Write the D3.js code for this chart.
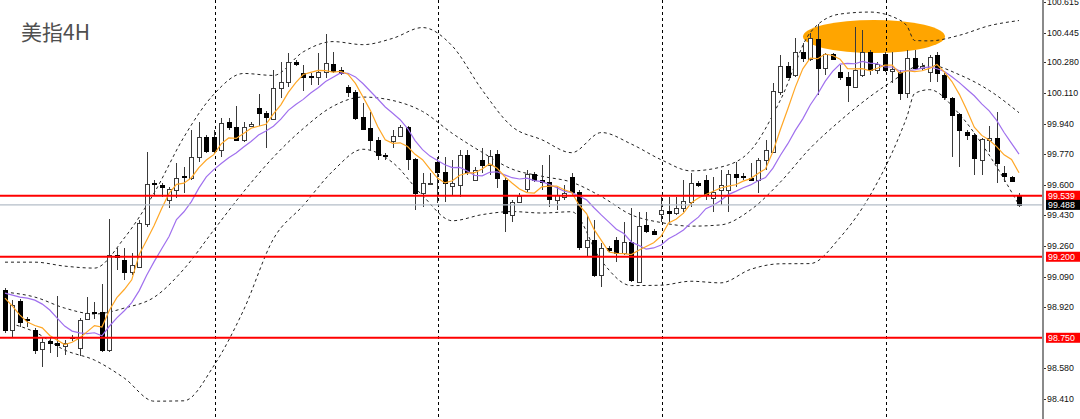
<!DOCTYPE html>
<html lang="zh">
<head>
<meta charset="utf-8">
<title>美指4H</title>
<script src="https://d3js.org/d3.v7.min.js"></script>
<style>
    body { margin: 0; background: #fff; }
    svg { display: block; }
    text { font-family: "Liberation Sans", Arial, sans-serif; }
    .title { font-family: "Noto Sans CJK SC", sans-serif; }
</style>
</head>
<body>
<div id="chart"></div>
<script>

// 4H candles of the dollar index, oldest first
var opens = [
    99.015, 98.793, 98.954, 98.854, 98.793, 98.687, 98.732, 98.720, 98.704, 98.754,
    98.693, 98.854, 98.893, 98.893, 98.682, 99.209, 99.182, 99.115, 99.143, 99.382,
    99.609, 99.598, 99.515, 99.570, 99.648, 99.637, 99.754, 99.865, 99.865, 99.793,
    99.948, 99.920, 99.848, 99.926, 100.026, 99.998, 99.965, 100.137, 100.170, 100.282,
    100.220, 100.204, 100.198, 100.226, 100.270, 100.237, 100.143, 100.115, 99.976, 99.915,
    99.848, 99.765, 99.843, 99.870, 99.920, 99.743, 99.554, 99.604, 99.726, 99.670,
    99.593, 99.598, 99.765, 99.626, 99.737, 99.709, 99.770, 99.626, 99.432, 99.504,
    99.576, 99.659, 99.626, 99.615, 99.515, 99.532, 99.643, 99.559, 99.254, 99.293,
    99.098, 99.248, 99.293, 99.220, 99.282, 99.059, 99.376, 99.343, 99.437, 99.454,
    99.443, 99.470, 99.504, 99.609, 99.626, 99.526, 99.570, 99.570, 99.659, 99.648,
    99.637, 99.626, 99.737, 99.782, 100.115, 100.259, 100.209, 100.337, 100.298, 100.409,
    100.248, 100.326, 100.226, 100.198, 100.143, 100.209, 100.337, 100.237, 100.326, 100.232,
    100.226, 100.109, 100.304, 100.248, 100.226, 100.320, 100.209, 100.082, 99.993, 99.893,
    99.876, 99.737, 99.848, 99.859, 99.665, 99.643, 99.543
];
var highs = [
    99.026, 98.959, 98.965, 98.865, 98.804, 98.754, 98.754, 98.982, 98.737, 98.765,
    98.859, 98.976, 98.948, 99.048, 99.409, 99.248, 99.248, 99.220, 99.404, 99.782,
    99.626, 99.609, 99.587, 99.720, 99.698, 99.904, 99.948, 99.876, 99.904, 99.970,
    99.970, 100.037, 99.948, 99.948, 100.104, 100.009, 100.237, 100.282, 100.332, 100.293,
    100.265, 100.220, 100.332, 100.437, 100.337, 100.254, 100.154, 100.126, 100.054, 100.004,
    99.865, 99.776, 99.904, 99.932, 99.926, 99.748, 99.665, 99.665, 99.754, 99.754,
    99.737, 99.793, 99.793, 99.698, 99.804, 99.793, 99.793, 99.637, 99.515, 99.554,
    99.682, 99.670, 99.709, 99.765, 99.587, 99.598, 99.665, 99.570, 99.432, 99.404,
    99.276, 99.259, 99.309, 99.393, 99.470, 99.448, 99.448, 99.354, 99.532, 99.532,
    99.532, 99.626, 99.665, 99.620, 99.654, 99.643, 99.682, 99.682, 99.726, 99.665,
    99.720, 99.748, 99.848, 100.165, 100.320, 100.282, 100.415, 100.387, 100.443, 100.493,
    100.332, 100.332, 100.265, 100.226, 100.476, 100.459, 100.348, 100.282, 100.337, 100.337,
    100.237, 100.348, 100.348, 100.276, 100.320, 100.337, 100.220, 100.087, 99.998, 99.904,
    99.887, 99.859, 99.926, 100.004, 99.704, 99.648, 99.554
];
var lows = [
    98.776, 98.754, 98.809, 98.809, 98.659, 98.587, 98.665, 98.643, 98.654, 98.732,
    98.648, 98.848, 98.854, 98.670, 98.670, 99.126, 99.070, 99.098, 99.137, 99.365,
    99.543, 99.532, 99.470, 99.526, 99.554, 99.626, 99.726, 99.776, 99.776, 99.754,
    99.904, 99.843, 99.837, 99.920, 99.926, 99.804, 99.959, 100.082, 100.143, 100.259,
    100.120, 100.154, 100.154, 100.193, 100.220, 100.209, 100.087, 99.959, 99.904, 99.793,
    99.737, 99.737, 99.804, 99.865, 99.682, 99.459, 99.476, 99.598, 99.498, 99.504,
    99.543, 99.532, 99.654, 99.626, 99.665, 99.654, 99.582, 99.337, 99.393, 99.498,
    99.559, 99.615, 99.570, 99.476, 99.459, 99.515, 99.543, 99.237, 99.198, 99.087,
    99.032, 99.226, 99.170, 99.209, 99.059, 99.054, 99.332, 99.320, 99.393, 99.387,
    99.432, 99.448, 99.476, 99.587, 99.515, 99.448, 99.487, 99.448, 99.587, 99.626,
    99.620, 99.554, 99.682, 99.776, 100.098, 100.193, 100.198, 100.282, 100.287, 100.098,
    100.209, 100.293, 100.182, 100.059, 100.137, 100.198, 100.209, 100.215, 100.226, 100.165,
    100.070, 100.082, 100.237, 100.237, 100.170, 100.170, 100.070, 99.754, 99.698, 99.848,
    99.654, 99.654, 99.782, 99.609, 99.615, 99.615, 99.476
];
var closes = [
    98.793, 98.932, 98.837, 98.848, 98.682, 98.726, 98.720, 98.709, 98.720, 98.748,
    98.848, 98.887, 98.887, 98.682, 99.209, 99.198, 99.115, 99.154, 99.387, 99.604,
    99.604, 99.587, 99.576, 99.637, 99.643, 99.754, 99.865, 99.787, 99.787, 99.943,
    99.920, 99.848, 99.920, 99.937, 99.998, 99.976, 100.137, 100.170, 100.282, 100.270,
    100.198, 100.198, 100.226, 100.276, 100.232, 100.220, 100.115, 99.970, 99.909, 99.848,
    99.765, 99.759, 99.870, 99.920, 99.743, 99.554, 99.609, 99.609, 99.670, 99.609,
    99.609, 99.765, 99.670, 99.682, 99.709, 99.759, 99.637, 99.443, 99.504, 99.537,
    99.659, 99.626, 99.615, 99.520, 99.543, 99.554, 99.559, 99.254, 99.293, 99.098,
    99.248, 99.237, 99.220, 99.282, 99.070, 99.370, 99.343, 99.326, 99.459, 99.443,
    99.470, 99.509, 99.609, 99.598, 99.543, 99.559, 99.598, 99.659, 99.643, 99.643,
    99.626, 99.737, 99.793, 100.120, 100.259, 100.198, 100.337, 100.304, 100.415, 100.248,
    100.326, 100.298, 100.198, 100.154, 100.237, 100.337, 100.237, 100.270, 100.237, 100.243,
    100.109, 100.304, 100.248, 100.259, 100.309, 100.220, 100.087, 99.987, 99.904, 99.876,
    99.748, 99.854, 99.859, 99.720, 99.648, 99.620, 99.487
];

// fast average (orange) and slow average (violet), one value per candle
var maFast = [
    98.970, 98.926, 98.876, 98.837, 98.818, 98.805, 98.763, 98.737, 98.712, 98.725,
    98.749, 98.783, 98.818, 98.810, 98.903, 98.973, 99.018, 99.072, 99.213, 99.292,
    99.373, 99.467, 99.552, 99.602, 99.609, 99.639, 99.695, 99.737, 99.767, 99.827,
    99.860, 99.857, 99.884, 99.914, 99.925, 99.936, 99.994, 100.044, 100.113, 100.167,
    100.212, 100.224, 100.235, 100.234, 100.226, 100.230, 100.214, 100.163, 100.089, 100.013,
    99.922, 99.850, 99.830, 99.833, 99.812, 99.769, 99.739, 99.687, 99.637, 99.610,
    99.622, 99.653, 99.665, 99.667, 99.687, 99.717, 99.692, 99.646, 99.610, 99.576,
    99.556, 99.554, 99.588, 99.592, 99.593, 99.572, 99.558, 99.486, 99.440, 99.352,
    99.290, 99.226, 99.219, 99.217, 99.212, 99.236, 99.257, 99.278, 99.314, 99.388,
    99.408, 99.442, 99.498, 99.526, 99.546, 99.564, 99.582, 99.592, 99.600, 99.620,
    99.634, 99.662, 99.688, 99.784, 99.907, 100.022, 100.142, 100.244, 100.303, 100.300,
    100.326, 100.318, 100.297, 100.245, 100.243, 100.245, 100.233, 100.247, 100.264, 100.265,
    100.219, 100.233, 100.228, 100.233, 100.246, 100.268, 100.225, 100.173, 100.102, 100.015,
    99.920, 99.874, 99.848, 99.812, 99.766, 99.740, 99.667
];
var maSlow = [
    98.998, 98.987, 98.976, 98.970, 98.959, 98.937, 98.904, 98.859, 98.815, 98.787,
    98.777, 98.773, 98.778, 98.761, 98.814, 98.861, 98.900, 98.945, 99.012, 99.097,
    99.173, 99.243, 99.312, 99.407, 99.450, 99.506, 99.581, 99.644, 99.684, 99.718,
    99.750, 99.776, 99.810, 99.840, 99.876, 99.898, 99.925, 99.964, 100.013, 100.046,
    100.074, 100.109, 100.139, 100.173, 100.197, 100.221, 100.219, 100.199, 100.162, 100.119,
    100.076, 100.032, 99.997, 99.961, 99.912, 99.845, 99.795, 99.759, 99.735, 99.711,
    99.695, 99.696, 99.676, 99.652, 99.649, 99.669, 99.672, 99.655, 99.639, 99.632,
    99.637, 99.623, 99.617, 99.601, 99.584, 99.564, 99.556, 99.537, 99.516, 99.472,
    99.431, 99.392, 99.353, 99.329, 99.282, 99.263, 99.242, 99.249, 99.265, 99.300,
    99.322, 99.349, 99.388, 99.420, 99.467, 99.486, 99.512, 99.545, 99.563, 99.583,
    99.599, 99.622, 99.640, 99.692, 99.764, 99.828, 99.902, 99.966, 100.043, 100.104,
    100.174, 100.230, 100.270, 100.274, 100.272, 100.285, 100.275, 100.272, 100.254, 100.254,
    100.232, 100.233, 100.238, 100.248, 100.255, 100.244, 100.229, 100.200, 100.167, 100.130,
    100.094, 100.049, 100.010, 99.957, 99.890, 99.830, 99.770
];

// Bollinger bands, read at these candles
var bandAt = [0, 4, 8, 12, 16, 20, 24, 28, 32, 36, 40, 44, 48, 52, 56, 60, 64, 68, 72, 76,
    80, 84, 88, 92, 96, 100, 104, 108, 112, 116, 120, 121, 122, 124, 128, 132, 136];
var bandUpper = [
    99.170, 99.170, 99.148, 99.137, 99.304, 99.554, 99.865, 100.102, 100.218, 100.207,
    100.338, 100.395, 100.378, 100.413, 100.473, 100.370, 100.126, 99.923, 99.850, 99.778,
    99.890, 99.826, 99.739, 99.677, 99.698, 99.790, 100.070, 100.445, 100.548, 100.559,
    100.515, 100.480, 100.401, 100.399, 100.430, 100.483, 100.512
];
var bandMiddle = [
    99.004, 98.976, 98.915, 98.882, 98.915, 98.975, 99.132, 99.348, 99.561, 99.753,
    99.912, 100.036, 100.087, 100.068, 100.007, 99.885, 99.780, 99.687, 99.647, 99.614,
    99.534, 99.433, 99.390, 99.370, 99.377, 99.460, 99.615, 99.803, 99.955, 100.089,
    100.203, 100.231, 100.254, 100.264, 100.211, 100.124, 100.000
];
var bandLower = [
    98.837, 98.782, 98.682, 98.626, 98.526, 98.398, 98.400, 98.594, 98.904, 99.299,
    99.485, 99.677, 99.797, 99.723, 99.540, 99.400, 99.434, 99.451, 99.443, 99.450,
    99.177, 99.040, 99.042, 99.064, 99.055, 99.130, 99.161, 99.162, 99.307, 99.539,
    99.876, 99.982, 100.107, 100.128, 99.992, 99.765, 99.487
];

var priceTicks = ["100.615", "100.445", "100.280", "100.110", "99.940", "99.770", "99.600",
    "99.430", "99.260", "99.090", "98.920", "98.580", "98.410"];
var levels = [99.539, 99.200, 98.750];
var lastPrice = 99.488;
var weekStarts = [28, 58, 88, 118];

var width = 1080
var height = 419
var axisX = 1043

var svg = d3.select("#chart")
  .append("svg")
    .attr("width", width)
    .attr("height", height)

var x = d3.scaleLinear().domain([0, 136]).range([5, 1019])
var y = d3.scaleLinear().domain([98.41, 100.626]).range([399, 0])

var plot = svg.append("g")

// marker ellipse behind the top
plot.append("ellipse")
    .attr("cx", 874).attr("cy", 36.5)
    .attr("rx", 71).attr("ry", 16.5)
    .attr("fill", "#ffa500")

// week separators
plot.selectAll("line.sep")
    .data(weekStarts)
    .enter().append("line")
    .attr("class", "sep")
    .attr("x1", d => Math.round(x(d)) + 1.5)
    .attr("x2", d => Math.round(x(d)) + 1.5)
    .attr("y1", 0).attr("y2", height)
    .attr("stroke", "#000")
    .attr("stroke-dasharray", "3,3")

// bollinger bands
var bandLine = d3.line()
    .x((d, i) => x(bandAt[i]))
    .y(d => y(d))
    .curve(d3.curveMonotoneX)

;[bandUpper, bandMiddle, bandLower].forEach(function(series){
    plot.append("path")
        .attr("d", bandLine(series))
        .attr("fill", "none")
        .attr("stroke", "#222")
        .attr("stroke-width", 1)
        .attr("stroke-dasharray", "3,3")
})

// candles
var candles = d3.range(closes.length).map(function(i){
    return {i: i, o: opens[i], h: highs[i], l: lows[i], c: closes[i]}
})

var cg = plot.append("g")
    .selectAll("g")
    .data(candles)
    .enter().append("g")

cg.append("line")
    .attr("x1", d => Math.round(x(d.i)) + 0.5)
    .attr("x2", d => Math.round(x(d.i)) + 0.5)
    .attr("y1", d => Math.round(y(d.h)))
    .attr("y2", d => Math.round(y(d.l)))
    .attr("stroke", "#3a3a3a")

cg.append("rect")
    .attr("x", d => Math.round(x(d.i)) - 1.5)
    .attr("width", 4)
    .attr("y", d => Math.round(y(Math.max(d.o, d.c))) + 0.5)
    .attr("height", d => Math.max(0, Math.round(y(Math.min(d.o, d.c))) - Math.round(y(Math.max(d.o, d.c)))))
    .attr("fill", d => d.c >= d.o ? "#fff" : "#000")
    .attr("stroke", d => d.c >= d.o ? "#3a3a3a" : "#000")

// moving averages
var maLine = d3.line()
    .x((d, i) => x(i))
    .y(d => y(d))

plot.append("path")
    .attr("d", maLine(maSlow))
    .attr("fill", "none")
    .attr("stroke", "#a070ee")
    .attr("stroke-width", 1.2)

plot.append("path")
    .attr("d", maLine(maFast))
    .attr("fill", "none")
    .attr("stroke", "#ffa726")
    .attr("stroke-width", 1.2)

// bid line and key levels
svg.append("line")
    .attr("x1", 0).attr("x2", axisX)
    .attr("y1", y(lastPrice)).attr("y2", y(lastPrice))
    .attr("stroke", "#b4bec8")
    .attr("stroke-width", 1.3)

svg.selectAll("line.level")
    .data(levels)
    .enter().append("line")
    .attr("class", "level")
    .attr("x1", 0).attr("x2", axisX)
    .attr("y1", d => y(d)).attr("y2", d => y(d))
    .attr("stroke", "#ff0000")
    .attr("stroke-width", 2)

// price axis on the right
svg.append("line")
    .attr("x1", axisX).attr("x2", axisX)
    .attr("y1", 0).attr("y2", height)
    .attr("stroke", "#8a8a8a")
    .attr("stroke-width", 2)

var ticks = svg.append("g").selectAll("g")
    .data(priceTicks)
    .enter().append("g")
    .attr("transform", d => "translate(0," + Math.round(y(+d)) + ")")

ticks.append("line")
    .attr("x1", axisX + 1).attr("x2", axisX + 3)
    .attr("y1", 0.5).attr("y2", 0.5)
    .attr("stroke", "#333")

ticks.append("text")
    .attr("x", axisX + 4)
    .attr("dy", "0.35em")
    .attr("font-size", 8.8)
    .attr("fill", "#111")
    .text(d => d)

var tags = levels.map(v => ({v: v, bg: "#ff0000"})).concat([{v: lastPrice, bg: "#000"}])

var tag = svg.append("g").selectAll("g")
    .data(tags)
    .enter().append("g")
    .attr("transform", d => "translate(" + (axisX + 3) + "," + y(d.v) + ")")

tag.append("rect")
    .attr("x", 0).attr("y", -5)
    .attr("width", 34).attr("height", 10)
    .attr("fill", d => d.bg)

tag.append("text")
    .attr("x", 2)
    .attr("dy", "0.35em")
    .attr("font-size", 8.8)
    .attr("fill", "#fff")
    .text(d => d.v.toFixed(3))

// title
svg.append("text")
    .attr("class", "title")
    .attr("x", 21).attr("y", 40)
    .attr("font-size", 21)
    .attr("fill", "#4f4f4f")
    .text("美指4H")

</script>
</body>
</html>
